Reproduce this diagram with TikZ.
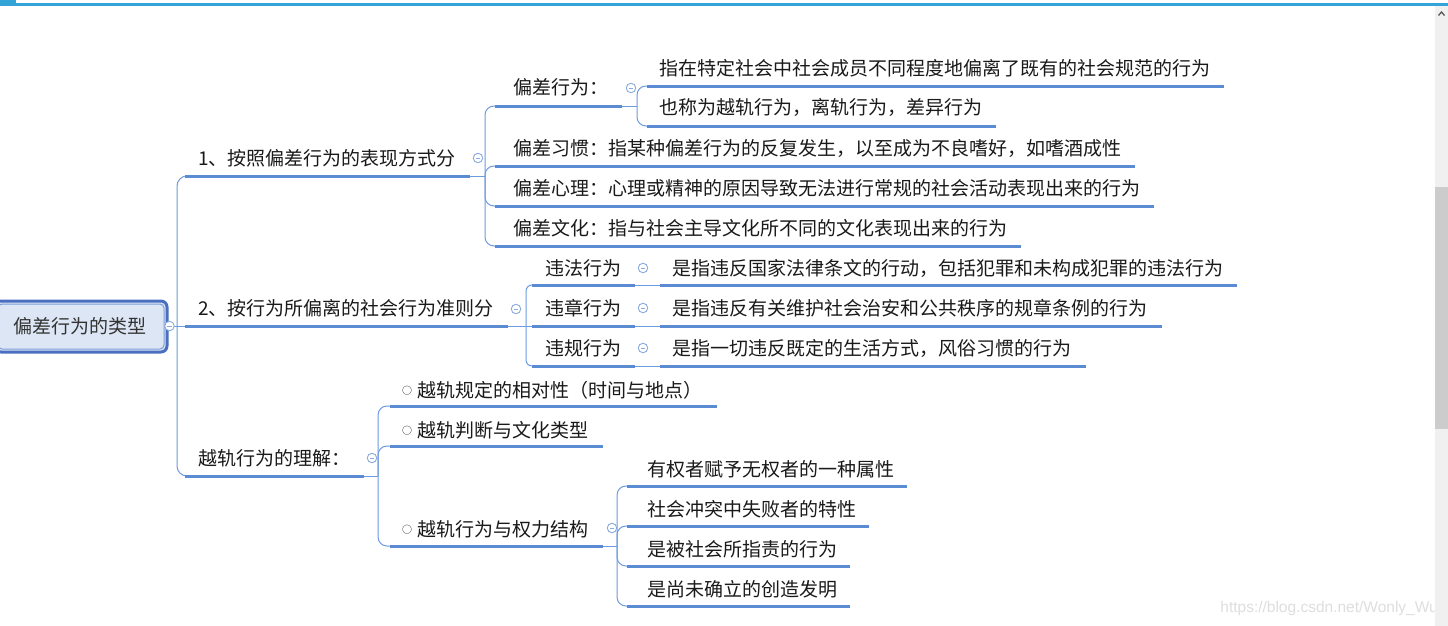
\documentclass[tikz,border=0pt]{standalone}
\usepackage{fontspec}
\setmainfont{Noto Sans CJK SC}
\newfontfamily\wmfont{Liberation Sans}
\definecolor{ul}{HTML}{5B8BD2}
\definecolor{cn}{HTML}{6D9BDF}
\definecolor{cc}{HTML}{8AABDF}
\definecolor{topbar}{HTML}{34A3D8}
\definecolor{rootblue}{HTML}{4A6EC0}
\definecolor{rootfill}{HTML}{DCE6F4}
\definecolor{txtc}{HTML}{1A1A1A}
\begin{document}
\begin{tikzpicture}[x=1pt,y=-1pt,
  txt/.style={anchor=base west, inner sep=0pt, font=\fontsize{19}{19}\selectfont, text=txtc},
  uline/.style={draw=ul, line width=3pt},
  thinln/.style={draw=cn, line width=1pt},
  conn/.style={draw=cn, line width=1pt, rounded corners=#1},
  conn/.default=9pt,
  fold/.style={circle, draw=cc, fill=white, line width=0.9pt, minimum size=9.5pt, inner sep=0pt,
    path picture={\draw[cc, line width=0.9pt] ([xshift=-2.4pt]path picture bounding box.center) -- ([xshift=2.4pt]path picture bounding box.center);}},
  rootbox/.style={draw=rootblue, line width=3pt, fill=rootfill, rounded corners=6pt, minimum width=172pt, minimum height=51pt, inner sep=0pt, font=\fontsize{19}{19}\selectfont, text=black!80},
  bul/.style={}
]
\useasboundingbox (0,0) rectangle (1448,626);
\fill[white] (0,0) rectangle (1448,626);

% top bar
\fill[topbar] (0,3) rectangle (1448,6);
\fill[topbar] (0,0) rectangle (16,6);

% watermark
\node[anchor=base east, inner sep=0pt, font=\wmfont\fontsize{15.5}{15.5}\selectfont, text=black!13] (wm) at (1438,612) {https://blog.csdn.net/Wonly\_Wu};

% scrollbar
\fill[black!6] (1435,6) rectangle (1448,626);
\fill[black!20] (1435,187) rectangle (1448,429);
\draw[black!65, line width=1.3pt] (1438.5,15.5) -- (1441.5,12) -- (1444.5,15.5);

% ---------- coordinates ----------
\coordinate (mJ) at (177,326);
\coordinate (b1s) at (185,176); \coordinate (b1e) at (470,176); \coordinate (b1J) at (485,176);
\coordinate (b2s) at (185,326); \coordinate (b2e) at (508,326); \coordinate (b2J) at (526,326);
\coordinate (b3s) at (185,476); \coordinate (b3e) at (364,476); \coordinate (b3J) at (378,476);

% branch 1 children
\coordinate (c11s) at (495,106); \coordinate (c11e) at (622,106); \coordinate (c11J) at (637,106);
\coordinate (c12s) at (495,166); \coordinate (c12e) at (1135,166);
\coordinate (c13s) at (495,206); \coordinate (c13e) at (1154,206);
\coordinate (c14s) at (495,246); \coordinate (c14e) at (1021,246);
\coordinate (d1s) at (647,86);  \coordinate (d1e) at (1224,86);
\coordinate (d2s) at (647,126); \coordinate (d2e) at (996,126);

% branch 2 children
\coordinate (c21s) at (532,285); \coordinate (c21e) at (635,285); \coordinate (e1s) at (660,285); \coordinate (e1e) at (1237,285);
\coordinate (c22s) at (532,326); \coordinate (c22e) at (635,326); \coordinate (e2s) at (660,326); \coordinate (e2e) at (1162,326);
\coordinate (c23s) at (532,366); \coordinate (c23e) at (635,366); \coordinate (e3s) at (660,366); \coordinate (e3e) at (1086,366);

% branch 3 children
\coordinate (c31s) at (390,406); \coordinate (c31e) at (717,406);
\coordinate (c32s) at (390,446); \coordinate (c32e) at (603,446);
\coordinate (c33s) at (390,546); \coordinate (c33e) at (603,546); \coordinate (c33J) at (617,546);
\coordinate (f1s) at (627,486); \coordinate (f1e) at (907,486);
\coordinate (f2s) at (627,526); \coordinate (f2e) at (869,526);
\coordinate (f3s) at (627,566); \coordinate (f3e) at (850,566);
\coordinate (f4s) at (627,606); \coordinate (f4e) at (850,606);

% ---------- connectors ----------
\draw[thinln] (171,326) -- (mJ);
\draw[conn=10pt] (mJ) |- (b1s);
\draw[thinln] (mJ) -- (b2s);
\draw[conn=10pt] (mJ) |- (b3s);

\draw[thinln] (b1e) -- (b1J);
\draw[conn] (b1J) |- (c11s);
\draw[conn] (b1J) |- (c12s);
\draw[conn] (b1J) |- (c13s);
\draw[conn] (b1J) |- (c14s);
\draw[thinln] (c11e) -- (c11J);
\draw[conn] (c11J) |- (d1s);
\draw[conn] (c11J) |- (d2s);

\draw[thinln] (b2e) -- (b2J);
\draw[conn=6pt] (b2J) |- (c21s);
\draw[thinln] (b2J) -- (c22s);
\draw[conn=6pt] (b2J) |- (c23s);
\draw[thinln] (c21e) -- (e1s);
\draw[thinln] (c22e) -- (e2s);
\draw[thinln] (c23e) -- (e3s);

\draw[thinln] (b3e) -- (b3J);
\draw[conn] (b3J) |- (c31s);
\draw[conn] (b3J) |- (c32s);
\draw[conn] (b3J) |- (c33s);
\draw[thinln] (c33e) -- (c33J);
\draw[conn] (c33J) |- (f1s);
\draw[conn] (c33J) |- (f2s);
\draw[conn] (c33J) |- (f3s);
\draw[conn] (c33J) |- (f4s);

% ---------- underlines ----------
\foreach \a/\b in {b1s/b1e,b2s/b2e,b3s/b3e,c11s/c11e,c12s/c12e,c13s/c13e,c14s/c14e,d1s/d1e,d2s/d2e,
  c21s/c21e,c22s/c22e,c23s/c23e,e1s/e1e,e2s/e2e,e3s/e3e,c31s/c31e,c32s/c32e,c33s/c33e,f1s/f1e,f2s/f2e,f3s/f3e,f4s/f4e}
  \draw[uline] (\a) -- (\b);

% ---------- root ----------
\node[rootbox] (root) at (81,326.5) {};
\draw[cc!80!rootblue, line width=1pt, rounded corners=4pt] ([shift={(4.5pt,4.5pt)}]root.south west) rectangle ([shift={(-4.5pt,-4.5pt)}]root.north east);
\node[inner sep=0pt, font=\fontsize{19}{19}\selectfont, text=black!80, anchor=base] (roottxt) at (80,333) {偏差行为的类型};

% ---------- texts ----------
\node[txt] (t1) at (198,165) {1、按照偏差行为的表现方式分};
\node[txt] (t2) at (198,315) {2、按行为所偏离的社会行为准则分};
\node[txt] (t3) at (198,465) {越轨行为的理解：};

\node[txt] (t11) at (513,95) {偏差行为：};
\node[txt] (t12) at (513,155) {偏差习惯：指某种偏差行为的反复发生，以至成为不良嗜好，如嗜酒成性};
\node[txt] (t13) at (513,195) {偏差心理：心理或精神的原因导致无法进行常规的社会活动表现出来的行为};
\node[txt] (t14) at (513,235) {偏差文化：指与社会主导文化所不同的文化表现出来的行为};
\node[txt] (td1) at (659,75) {指在特定社会中社会成员不同程度地偏离了既有的社会规范的行为};
\node[txt] (td2) at (659,114) {也称为越轨行为，离轨行为，差异行为};

\node[txt] (t21) at (545,275) {违法行为};
\node[txt] (t22) at (545,315) {违章行为};
\node[txt] (t23) at (545,355) {违规行为};
\node[txt] (te1) at (672,275) {是指违反国家法律条文的行动，包括犯罪和未构成犯罪的违法行为};
\node[txt] (te2) at (672,315) {是指违反有关维护社会治安和公共秩序的规章条例的行为};
\node[txt] (te3) at (672,355) {是指一切违反既定的生活方式，风俗习惯的行为};

\newcommand\smallring{\raisebox{2.2pt}{\fontsize{10}{10}\selectfont ○}\hspace{5pt}}
\node[txt] (t31) at (402,397) {\smallring 越轨规定的相对性（时间与地点）};
\node[txt] (t32) at (402,437) {\smallring 越轨判断与文化类型};
\node[txt] (t33) at (402,536) {\smallring 越轨行为与权力结构};

\node[txt] (tf1) at (647,476) {有权者赋予无权者的一种属性};
\node[txt] (tf2) at (647,516) {社会冲突中失败者的特性};
\node[txt] (tf3) at (647,556) {是被社会所指责的行为};
\node[txt] (tf4) at (647,596) {是尚未确立的创造发明};

% ---------- fold markers ----------
\node[fold] (froot) at (169.5,326) {};
\node[fold] (f1) at (478,158) {};
\node[fold] (f2) at (516,309) {};
\node[fold] (f3) at (372,458) {};
\node[fold] (f11) at (631,88) {};
\node[fold] (f21) at (643,268) {};
\node[fold] (f22) at (643,308) {};
\node[fold] (f23) at (643,348) {};
\node[fold] (f33) at (612,528) {};
\end{tikzpicture}
\end{document}
